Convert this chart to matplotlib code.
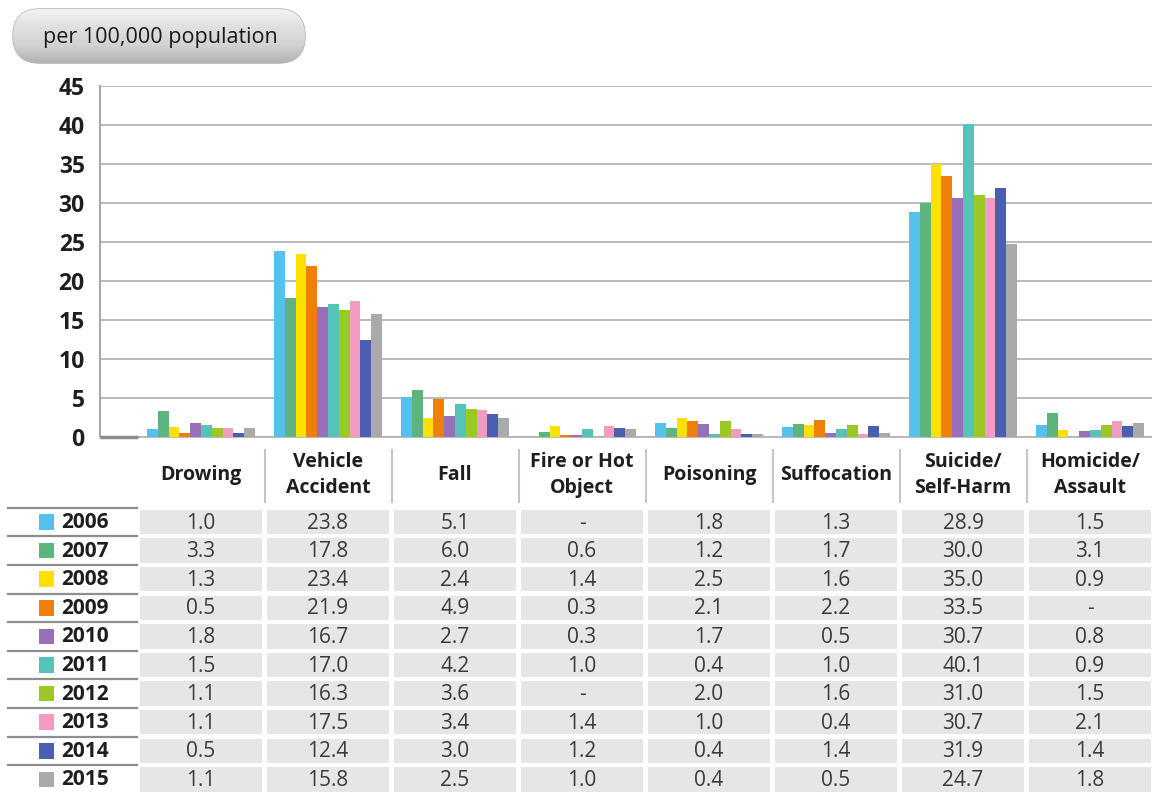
import numpy as np
import matplotlib.pyplot as plt
from matplotlib.patches import Rectangle, FancyBboxPatch
from matplotlib.colors import LinearSegmentedColormap

plt.rcParams['font.family'] = ['Open Sans', 'DejaVu Sans']

# --- data ---
categories = ["Drowing", "Vehicle\nAccident", "Fall", "Fire or Hot\nObject",
              "Poisoning", "Suffocation", "Suicide/\nSelf-Harm", "Homicide/\nAssault"]
years = ["2006", "2007", "2008", "2009", "2010", "2011", "2012", "2013", "2014", "2015"]
colors = ["#55c1ef", "#5db47c", "#ffe000", "#f07f0a", "#9670b9",
          "#55c3b9", "#9cc824", "#f29cc1", "#4b5fb1", "#aaaaaa"]

nan = np.nan
rates_2006 = [1.0, 23.8, 5.1, nan, 1.8, 1.3, 28.9, 1.5]
rates_2007 = [3.3, 17.8, 6.0, 0.6, 1.2, 1.7, 30.0, 3.1]
rates_2008 = [1.3, 23.4, 2.4, 1.4, 2.5, 1.6, 35.0, 0.9]
rates_2009 = [0.5, 21.9, 4.9, 0.3, 2.1, 2.2, 33.5, nan]
rates_2010 = [1.8, 16.7, 2.7, 0.3, 1.7, 0.5, 30.7, 0.8]
rates_2011 = [1.5, 17.0, 4.2, 1.0, 0.4, 1.0, 40.1, 0.9]
rates_2012 = [1.1, 16.3, 3.6, nan, 2.0, 1.6, 31.0, 1.5]
rates_2013 = [1.1, 17.5, 3.4, 1.4, 1.0, 0.4, 30.7, 2.1]
rates_2014 = [0.5, 12.4, 3.0, 1.2, 0.4, 1.4, 31.9, 1.4]
rates_2015 = [1.1, 15.8, 2.5, 1.0, 0.4, 0.5, 24.7, 1.8]
rates = [rates_2006, rates_2007, rates_2008, rates_2009, rates_2010,
         rates_2011, rates_2012, rates_2013, rates_2014, rates_2015]

W, H = 1152, 794
fig = plt.figure(figsize=(W / 100, H / 100), dpi=100)

# columns are 127 px wide, first centre at x=201 px
col_px = 127.0
x0_px = 201.0
def xunits(px):
    return (px - x0_px) / col_px

# --- bar chart ---
ax = fig.add_axes([100 / W, (H - 437) / H, (W - 100) / W, (437 - 86) / H])
x = np.arange(len(categories))
bw = 0.085
for j, (yr, vals) in enumerate(zip(years, rates)):
    v = np.nan_to_num(np.array(vals, dtype=float))
    ax.bar(x + (j - 4.5) * bw, v, width=bw, color=colors[j], zorder=3, linewidth=0)

ax.set_xlim(xunits(100), xunits(W))
ax.set_ylim(0, 45)
ax.set_yticks(np.arange(0, 46, 5))
ax.set_xticks([])
ax.yaxis.grid(True, color="#b4b4b4", linewidth=1.3, zorder=0)
for s in ["top", "right"]:
    ax.spines[s].set_visible(False)
ax.spines["left"].set_color("#a8a8a8")
ax.spines["left"].set_linewidth(1.5)
ax.spines["bottom"].set_color("#b4b4b4")
ax.spines["bottom"].set_linewidth(1.3)
ax.plot([xunits(100), -0.5], [0, 0], color="#8c8c8c", linewidth=2.5,
        clip_on=False, zorder=4, solid_capstyle="butt")
ax.tick_params(axis="y", length=0, pad=11, labelsize=16.5, labelcolor="#1e1e1e")
for lab in ax.get_yticklabels():
    lab.set_fontweight("bold")

# --- table below ---
tb = fig.add_axes([0, 0, 1, (H - 445) / H])
row_px = 28.6
row0_px = 522.0
tb.set_xlim(xunits(0), xunits(W))
tb.set_ylim((H - row0_px) / row_px, -(row0_px - 445) / row_px)
tb.axis("off")

head_y = (475 - row0_px) / row_px
for i, name in enumerate(categories):
    tb.text(i, head_y, name, ha="center", va="center", fontsize=14,
            fontweight="bold", color="#1e1e1e", linespacing=1.45)
    if i > 0:
        tb.plot([i - 0.5, i - 0.5], [(450 - row0_px) / row_px, (502 - row0_px) / row_px],
                color="#c4c4c4", linewidth=1.5)

gx, gy = 0.02, 0.07
for k, (yr, vals) in enumerate(zip(years, rates)):
    # year label column
    tb.plot([xunits(8), xunits(137)], [k - 0.5, k - 0.5], color="#8e8e8e", linewidth=1.6)
    tb.add_patch(Rectangle((xunits(39), k - 0.27), 15 / col_px, 0.54,
                           facecolor=colors[k], edgecolor="none"))
    tb.text(xunits(61), k + 0.02, yr, ha="left", va="center", fontsize=15,
            fontweight="bold", color="#1e1e1e")
    for i, v in enumerate(vals):
        tb.add_patch(Rectangle((i - 0.5 + gx, k - 0.5 + gy), 1 - 2 * gx, 1 - 2 * gy,
                               facecolor="#e6e6e6", edgecolor="none"))
        txt = "-" if np.isnan(v) else f"{v:.1f}"
        tb.text(i, k + 0.04, txt, ha="center", va="center", fontsize=15,
                color="#3a3a3a")

# --- unit pill ---
ov = fig.add_axes([0, 0, 1, 1], zorder=5)
ov.set_xlim(0, W)
ov.set_ylim(H, 0)
ov.axis("off")
pill = FancyBboxPatch((13, 9), 292, 54, boxstyle="round,pad=0,rounding_size=27",
                      facecolor="none", edgecolor="#bcbab8", linewidth=1.2)
ov.add_patch(pill)
cmap = LinearSegmentedColormap.from_list("pill", ["#f4f3f2", "#e2e0de", "#d4d2d0", "#b4b2b0"])
grad = np.linspace(0, 1, 100).reshape(-1, 1)
im = ov.imshow(grad, cmap=cmap, extent=(13, 305, 63, 9), aspect="auto", zorder=1)
im.set_clip_path(pill)
ov.text(160, 37, "per 100,000 population", ha="center", va="center",
        fontsize=15.5, color="#1a1a1a", zorder=3)

fig.savefig("out.png", dpi=100)
